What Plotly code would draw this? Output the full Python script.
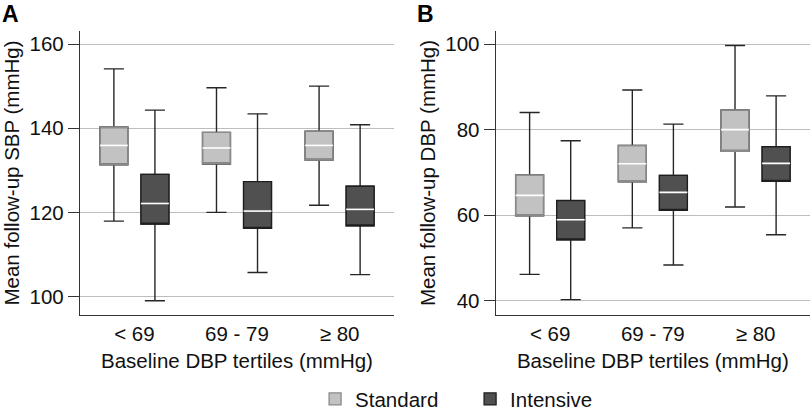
import plotly.graph_objects as go
from plotly.subplots import make_subplots

categories = ["< 69", "69 - 79", "≥ 80"]
groups = ["Standard", "Intensive"]

# Panel A: mean follow-up SBP (mmHg)
sbp_std_lower = [117.9, 120.0, 121.7]
sbp_std_q1 = [131.3, 131.5, 132.4]
sbp_std_median = [135.9, 135.3, 135.9]
sbp_std_q3 = [140.3, 139.0, 139.3]
sbp_std_upper = [154.1, 149.6, 150.0]

sbp_int_lower = [99.0, 105.7, 105.2]
sbp_int_q1 = [117.2, 116.2, 116.8]
sbp_int_median = [122.1, 120.3, 120.7]
sbp_int_q3 = [129.0, 127.3, 126.2]
sbp_int_upper = [144.3, 143.4, 140.8]

# Panel B: mean follow-up DBP (mmHg)
dbp_std_lower = [46.1, 57.0, 61.9]
dbp_std_q1 = [59.8, 67.8, 74.9]
dbp_std_median = [64.6, 72.0, 80.0]
dbp_std_q3 = [69.4, 76.3, 84.6]
dbp_std_upper = [84.0, 89.3, 99.7]

dbp_int_lower = [40.2, 48.3, 55.4]
dbp_int_q1 = [54.2, 61.1, 67.9]
dbp_int_median = [58.9, 65.3, 72.1]
dbp_int_q3 = [63.4, 69.3, 76.0]
dbp_int_upper = [77.4, 81.3, 87.9]

sbp_ticks = [100, 120, 140, 160]
dbp_ticks = [40, 60, 80, 100]

FONT = "Liberation Sans, Arial, Helvetica, sans-serif"
FS = 20.5

panels = [
    (1, {"Standard": (sbp_std_lower, sbp_std_q1, sbp_std_median, sbp_std_q3, sbp_std_upper),
         "Intensive": (sbp_int_lower, sbp_int_q1, sbp_int_median, sbp_int_q3, sbp_int_upper)}),
    (2, {"Standard": (dbp_std_lower, dbp_std_q1, dbp_std_median, dbp_std_q3, dbp_std_upper),
         "Intensive": (dbp_int_lower, dbp_int_q1, dbp_int_median, dbp_int_q3, dbp_int_upper)}),
]

offsets = {"Standard": -0.2, "Intensive": 0.2}
box_w = 0.272
fills = {"Standard": "rgba(150,150,150,0.58)", "Intensive": "#505050"}
edges = {"Standard": "#8a8a8a", "Intensive": "#1e1e1e"}
whisker_col = "#262626"

fig = make_subplots(rows=1, cols=2)

for col, data in panels:
    for g in groups:
        lo, q1, med, q3, hi = data[g]
        pos = [i + offsets[g] for i in range(len(categories))]
        # whiskers with caps
        fig.add_trace(go.Box(x=pos, q1=q1, median=q1, q3=q3, lowerfence=lo, upperfence=hi,
                             width=box_w, whiskerwidth=0.72, fillcolor="rgba(0,0,0,0)",
                             line=dict(color=whisker_col, width=1.4), boxpoints=False,
                             showlegend=False, hoverinfo="skip"), row=1, col=col)
        # box body
        fig.add_trace(go.Box(x=pos, q1=q1, median=q1, q3=q3, lowerfence=q1, upperfence=q3,
                             width=box_w, whiskerwidth=0, fillcolor=fills[g],
                             line=dict(color=edges[g], width=1.3), boxpoints=False,
                             name=g, legendgroup=g, showlegend=(col == 1)), row=1, col=col)
        # white median line
        mx, my = [], []
        for p, m in zip(pos, med):
            mx += [p - box_w / 2, p + box_w / 2, None]
            my += [m, m, None]
        fig.add_trace(go.Scatter(x=mx, y=my, mode="lines", line=dict(color="white", width=1.6),
                                 showlegend=False, hoverinfo="skip"), row=1, col=col)

fig.update_xaxes(range=[-0.53, 2.53], tickmode="array", tickvals=list(range(len(categories))),
                 ticktext=categories, showgrid=False, zeroline=False, showline=True,
                 linecolor="#333333", linewidth=1.3, ticks="", automargin=False,
                 tickfont=dict(size=FS, color="#111111"),
                 title=dict(text="Baseline DBP tertiles (mmHg)", standoff=9,
                            font=dict(size=FS, color="#111111")))
fig.update_xaxes(domain=[0.0988, 0.4864], row=1, col=1)
fig.update_xaxes(domain=[0.612, 1.0], row=1, col=2)

fig.update_yaxes(domain=[0.2336, 0.9246], zeroline=False, showline=True, linecolor="#333333",
                 linewidth=1.3, ticks="outside", ticklen=11, tickcolor="#333333",
                 showgrid=True, gridcolor="#bdbdbd", gridwidth=1, automargin=False,
                 tickfont=dict(size=FS, color="#111111"))
fig.update_yaxes(range=[95.6, 163.1], tickvals=sbp_ticks, row=1, col=1,
                 title=dict(text="Mean follow-up SBP (mmHg)", standoff=4,
                            font=dict(size=FS, color="#111111")))
fig.update_yaxes(range=[36.6, 103.1], tickvals=dbp_ticks, row=1, col=2,
                 title=dict(text="Mean follow-up DBP (mmHg)", standoff=4,
                            font=dict(size=FS, color="#111111")))

fig.add_annotation(text="<b>A</b>", x=10 / 810, y=1 - 14 / 411, xref="paper", yref="paper",
                   xanchor="center", yanchor="middle",
                   showarrow=False, font=dict(size=23, color="black"))
fig.add_annotation(text="<b>B</b>", x=425 / 810, y=1 - 14 / 411, xref="paper", yref="paper",
                   xanchor="center", yanchor="middle",
                   showarrow=False, font=dict(size=23, color="black"))

fig.update_layout(
    width=810, height=411,
    margin=dict(l=0, r=0, t=0, b=0, autoexpand=False),
    paper_bgcolor="white", plot_bgcolor="white",
    boxmode="overlay",
    font=dict(family=FONT, size=FS, color="#111111"),
    legend=dict(orientation="h", x=0.389, xanchor="left", y=0.029, yanchor="middle",
                entrywidth=110, font=dict(size=FS), itemclick=False,
                bgcolor="rgba(0,0,0,0)"),
)

# the page body has a default 8px margin; drop it so the figure fills the window
fig.write_html("out.html", config={"displayModeBar": False},
               post_script="document.body.style.margin='0';")
